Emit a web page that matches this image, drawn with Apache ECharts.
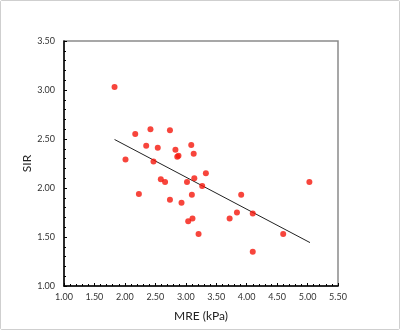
<!DOCTYPE html>
<html style="height: 100%">
<head>
	<meta charset="utf-8">
</head>
<body style="height: 100%; margin: 0; background: #fff">
<div id="container" style="position: absolute; left: 0; top: 0; width: 400px; height: 330px; box-sizing: border-box; border: 1px solid #cfcfcf; border-radius: 2px"></div>
<script type="text/javascript" src="https://cdn.jsdelivr.net/npm/echarts@6/dist/echarts.min.js"></script>
<script type="text/javascript">
    // MRE stiffness (kPa) vs SIR
    var mre = [1.83, 2.01, 2.17, 2.23, 2.35, 2.42, 2.47, 2.54, 2.59, 2.66, 2.74, 2.74,
        2.83, 2.86, 2.88, 2.93, 3.02, 3.04, 3.09, 3.10, 3.11, 3.13, 3.14, 3.21,
        3.27, 3.33, 3.72, 3.84, 3.91, 4.10, 4.10, 4.60, 5.03];
    var sir = [3.03, 2.29, 2.55, 1.94, 2.43, 2.60, 2.27, 2.41, 2.09, 2.06, 2.59, 1.88,
        2.39, 2.32, 2.33, 1.85, 2.06, 1.66, 2.44, 1.93, 1.69, 2.35, 2.10, 1.53,
        2.02, 2.15, 1.69, 1.75, 1.93, 1.74, 1.35, 1.53, 2.06];
    // fitted line end points
    var fitX = [1.83, 5.04];
    var fitY = [2.495, 1.443];

    var points = mre.map(function (x, i) { return [x, sir[i]]; });
    var fit = fitX.map(function (x, i) { return [x, fitY[i]]; });

    var dom = document.getElementById("container");
    var myChart = echarts.init(dom);
    var font = 'Lato, "Open Sans", sans-serif';

    var option = {
        backgroundColor: '#fff',
        animation: false,
        grid: {
            left: 63, right: 61, top: 40, bottom: 43,
            show: true,
            borderColor: '#8a8a8a',
            borderWidth: 1.5
        },
        xAxis: {
            type: 'value',
            min: 1, max: 5.5, interval: 0.5,
            name: 'MRE (kPa)',
            nameLocation: 'middle',
            nameGap: 24,
            nameMoveOverlap: false,
            nameTextStyle: {fontFamily: font, fontSize: 12, color: '#222'},
            axisLine: {show: true, onZero: false, lineStyle: {color: '#000', width: 1.5}},
            axisTick: {show: true, inside: true, length: 3, lineStyle: {color: '#000'}},
            minorTick: {show: true, splitNumber: 5, length: 2, lineStyle: {color: '#000'}},
            axisLabel: {
                fontFamily: font, fontSize: 9, color: '#333', margin: 7,
                formatter: function (v) { return v.toFixed(2); }
            },
            splitLine: {show: false}
        },
        yAxis: {
            type: 'value',
            min: 1, max: 3.5, interval: 0.5,
            name: 'SIR',
            nameLocation: 'middle',
            nameGap: 31,
            nameMoveOverlap: false,
            nameTextStyle: {fontFamily: font, fontSize: 12, color: '#222'},
            axisLine: {show: true, onZero: false, lineStyle: {color: '#000', width: 1.5}},
            axisTick: {show: true, inside: true, length: 3, lineStyle: {color: '#000'}},
            minorTick: {show: true, splitNumber: 5, length: 2, lineStyle: {color: '#000'}},
            axisLabel: {
                fontFamily: font, fontSize: 9, color: '#333', margin: 9,
                formatter: function (v) { return v.toFixed(2); }
            },
            splitLine: {show: false}
        },
        series: [{
            type: 'scatter',
            data: points,
            symbol: 'circle',
            symbolSize: 6,
            itemStyle: {color: '#f5170b'},
            z: 3
        }, {
            type: 'line',
            data: fit,
            symbol: 'none',
            lineStyle: {color: '#222', width: 1},
            z: 2
        }]
    };

    myChart.setOption(option);
</script>
</body>
</html>
